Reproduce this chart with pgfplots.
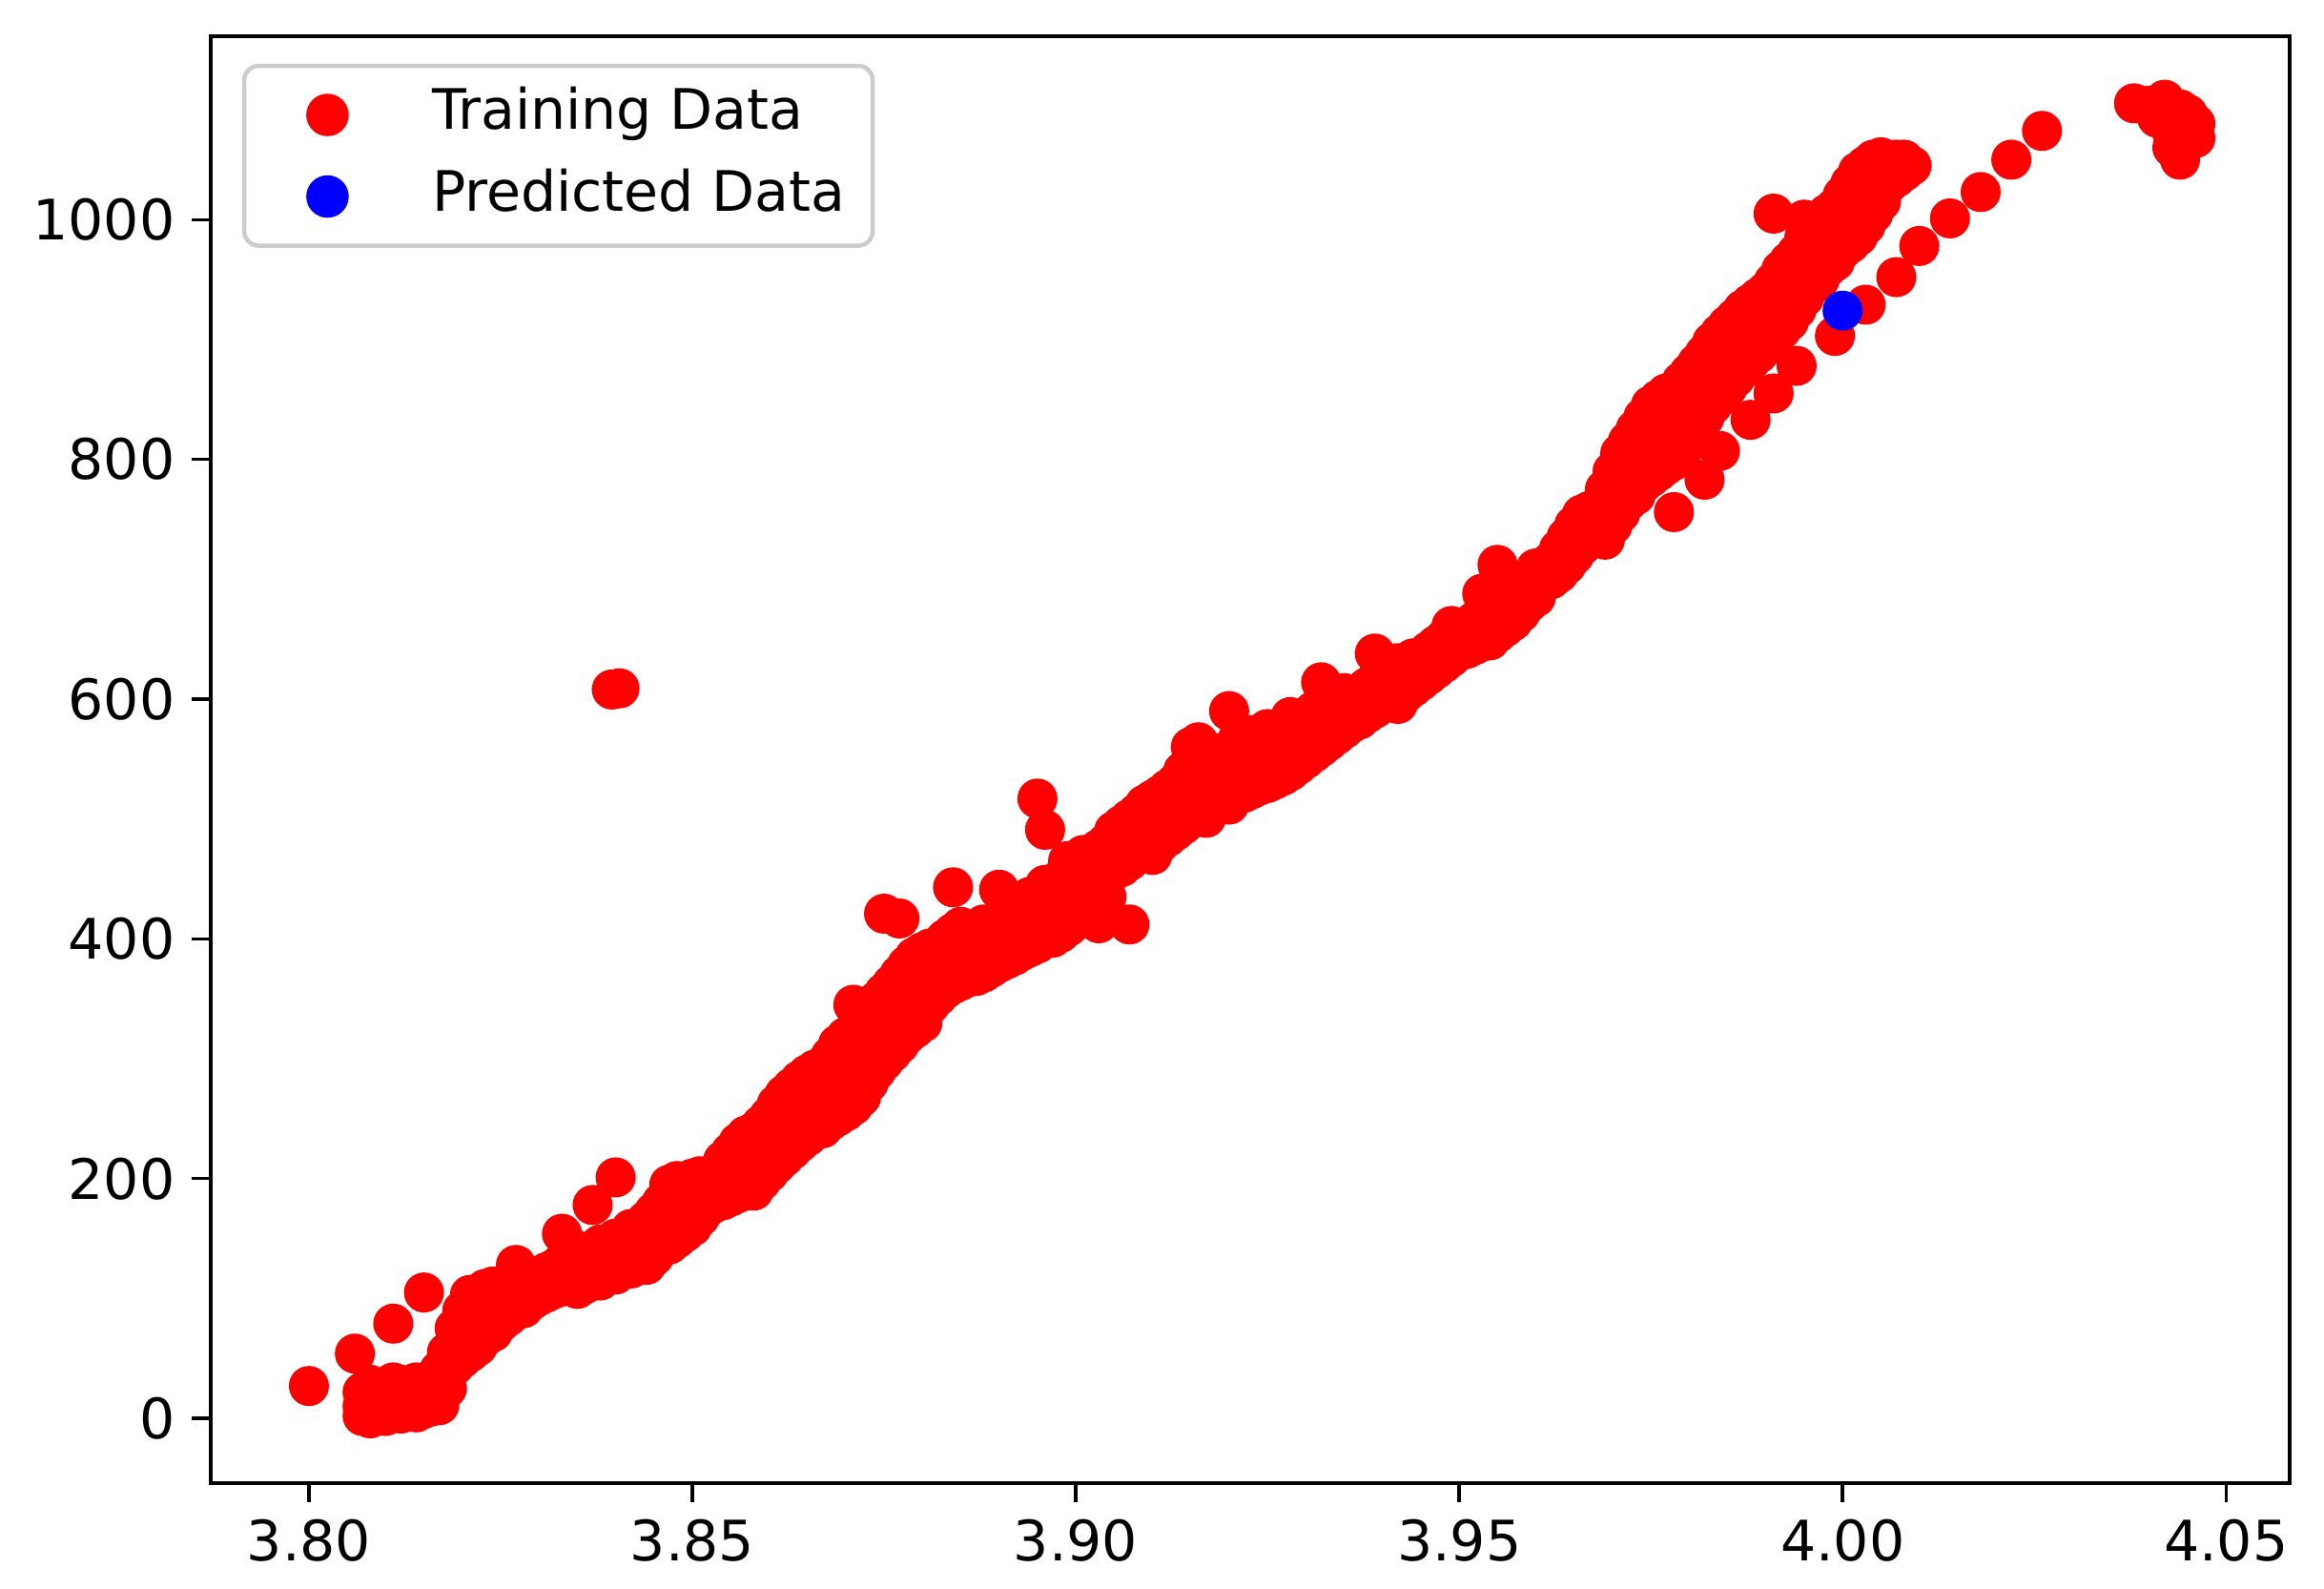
\documentclass[border=0pt]{standalone}
\usepackage{pgfplots}
\pgfplotsset{compat=1.18}
\usepackage{fontspec}
\setmainfont{DejaVu Sans}
\begin{document}
\begin{tikzpicture}
\begin{axis}[
  scale only axis,
  width=436pt, height=303.4pt,
  xmin=3.7872, xmax=4.0583,
  ymin=-54, ymax=1153,
  axis line style={line width=0.9pt},
  tick style={line width=0.7pt, black},
  tick align=outside,
  major tick length=4pt,
  xtick={3.80,3.85,3.90,3.95,4.00,4.05},
  xticklabels={3.80,3.85,3.90,3.95,4.00,4.05},
  ytick={0,200,400,600,800,1000},
  yticklabels={0,200,400,600,800,1000},
  xtick pos=bottom, ytick pos=left,
  tick label style={font=\fontsize{11.7}{14}\selectfont},
  /pgf/number format/assume math mode=true,
  /pgf/number format/1000 sep={},
  legend style={at={(0.0151,0.981)}, anchor=north west,
    draw=black!20, line width=0.9pt, rounded corners=3pt,
    fill=white, inner xsep=5.8pt, inner ysep=4.7pt,
    font=\fontsize{11.7}{14}\selectfont,
    nodes={inner sep=0pt, text height=8.6pt, text depth=2.6pt},
    row sep=5.9pt,
    /tikz/every odd column/.append style={column sep=17.5pt}},
  legend cell align=left,
  legend image code/.code={\path (-11.2pt,0pt) (4pt,0pt);\draw[#1] plot coordinates {(0pt,0pt)};},
]
\addplot[only marks, mark=*, mark size=4pt, color=red] table {
x y
3.800 27
3.806 54
3.807 2
3.807 10
3.807 22
3.808 0
3.808 15
3.808 28
3.809 5
3.809 20
3.810 2
3.810 12
3.810 25
3.811 79
3.811 8
3.811 18
3.811 30
3.812 4
3.812 15
3.812 28
3.813 10
3.813 22
3.814 5
3.814 18
3.814 30
3.815 105
3.815 8
3.815 25
3.816 10
3.816 20
3.816 32
3.817 11
3.817 28
3.817 40
3.818 25
3.818 40
3.818 55
3.819 44
3.819 60
3.819 75
3.820 50
3.820 70
3.820 90
3.821 55
3.821 80
3.821 103
3.822 60
3.822 85
3.822 100
3.823 68
3.823 90
3.823 108
3.824 72
3.824 95
3.824 110
3.825 80
3.825 100
3.826 85
3.826 105
3.827 128
3.827 90
3.827 108
3.828 92
3.828 112
3.829 98
3.829 115
3.830 102
3.830 118
3.831 105
3.831 122
3.832 108
3.832 125
3.833 154
3.833 110
3.833 130
3.834 112
3.834 135
3.835 108
3.835 125
3.835 140
3.836 112
3.836 135
3.837 178
3.837 118
3.837 140
3.838 115
3.838 128
3.838 145
3.839 122
3.839 140
3.840 201
3.840 120
3.840 135
3.840 150
3.8395 608
3.8405 609
3.841 126
3.841 145
3.842 125
3.842 140
3.842 158
3.843 132
3.843 150
3.844 128
3.844 145
3.844 165
3.845 135
3.845 155
3.845 172
3.846 145
3.846 165
3.846 180
3.847 145
3.847 160
3.847 185
3.847 195
3.848 150
3.848 175
3.848 198
3.849 155
3.849 180
3.849 192
3.850 160
3.850 175
3.850 200
3.851 168
3.851 190
3.851 202
3.852 176
3.852 195
3.853 180
3.853 205
3.854 182
3.854 200
3.854 215
3.855 185
3.855 205
3.855 222
3.856 188
3.856 210
3.856 230
3.857 190
3.857 215
3.857 236
3.858 190
3.858 215
3.858 239
3.859 198
3.859 222
3.859 245
3.860 205
3.860 228
3.860 252
3.861 212
3.861 238
3.861 262
3.862 218
3.862 245
3.862 270
3.863 224
3.863 250
3.863 276
3.864 230
3.864 255
3.864 282
3.865 235
3.865 262
3.865 287
3.866 240
3.866 268
3.866 291
3.867 242
3.867 270
3.867 294
3.868 248
3.868 278
3.868 302
3.869 252
3.869 285
3.869 312
3.870 256
3.870 290
3.870 318
3.871 345
3.871 261
3.871 295
3.871 323
3.872 268
3.872 300
3.872 330
3.873 280
3.873 310
3.873 338
3.874 290
3.874 320
3.874 348
3.875 421
3.875 298
3.875 328
3.875 355
3.876 305
3.876 336
3.876 362
3.877 417
3.877 312
3.877 345
3.877 370
3.878 320
3.878 352
3.878 378
3.879 325
3.879 340
3.879 365
3.879 385
3.880 330
3.880 355
3.880 389
3.881 345
3.881 370
3.881 392
3.882 352
3.882 378
3.883 358
3.883 385
3.883 400
3.884 443
3.884 362
3.884 380
3.884 405
3.885 365
3.885 388
3.885 410
3.886 368
3.886 392
3.887 369
3.887 385
3.887 405
3.888 372
3.888 395
3.888 412
3.889 376
3.889 398
3.890 441
3.890 380
3.890 400
3.890 415
3.891 383
3.891 405
3.892 386
3.892 410
3.892 425
3.893 390
3.893 415
3.894 393
3.894 420
3.894 435
3.895 517
3.895 396
3.895 425
3.896 491
3.896 400
3.896 430
3.896 445
3.897 401
3.897 420
3.897 440
3.898 405
3.898 430
3.898 450
3.899 410
3.899 440
3.899 465
3.900 415
3.900 445
3.900 460
3.901 420
3.901 450
3.901 470
3.902 425
3.902 455
3.903 413
3.903 430
3.903 460
3.903 475
3.904 435
3.904 465
3.904 480
3.905 457
3.905 475
3.905 490
3.906 460
3.906 480
3.906 495
3.907 412
3.907 465
3.907 485
3.907 500
3.908 470
3.908 490
3.908 505
3.909 475
3.909 495
3.909 512
3.910 470
3.910 495
3.910 516
3.911 480
3.911 500
3.911 520
3.912 485
3.912 505
3.912 525
3.913 490
3.913 510
3.913 530
3.914 495
3.914 515
3.914 540
3.915 500
3.915 520
3.915 545
3.915 560
3.916 505
3.916 530
3.916 564
3.917 501
3.917 525
3.917 550
3.918 510
3.918 535
3.918 555
3.919 515
3.919 540
3.920 590
3.920 512
3.920 530
3.920 555
3.921 520
3.921 545
3.921 565
3.922 522
3.922 540
3.922 560
3.923 525
3.923 550
3.923 570
3.924 528
3.924 548
3.925 530
3.925 555
3.925 575
3.926 533
3.926 550
3.926 570
3.927 536
3.927 558
3.928 585
3.928 540
3.928 562
3.929 545
3.929 565
3.930 550
3.930 570
3.931 555
3.931 575
3.931 590
3.932 614
3.932 560
3.932 580
3.933 565
3.933 585
3.934 570
3.934 590
3.935 575
3.935 595
3.935 605
3.936 580
3.936 600
3.937 583
3.937 605
3.938 588
3.938 610
3.939 638
3.939 592
3.939 615
3.940 596
3.940 618
3.941 600
3.941 622
3.942 596
3.942 615
3.942 630
3.943 605
3.943 628
3.944 610
3.944 634
3.945 615
3.945 635
3.946 620
3.946 640
3.947 625
3.947 645
3.948 630
3.948 650
3.949 661
3.949 635
3.949 652
3.950 640
3.950 658
3.951 642
3.951 660
3.952 645
3.952 665
3.953 688
3.953 648
3.953 670
3.954 649
3.954 675
3.955 712
3.955 655
3.955 680
3.956 660
3.956 685
3.957 665
3.957 690
3.958 672
3.958 695
3.959 680
3.959 700
3.960 709
3.960 685
3.960 700
3.961 697
3.961 705
3.962 700
3.962 715
3.963 705
3.963 725
3.964 712
3.964 735
3.965 720
3.965 745
3.966 728
3.966 754
3.967 757
3.967 735
3.967 745
3.968 740
3.968 760
3.969 733
3.969 750
3.969 775
3.970 745
3.970 770
3.970 790
3.971 755
3.971 780
3.971 805
3.972 765
3.972 790
3.972 815
3.973 770
3.973 800
3.973 825
3.974 780
3.974 810
3.974 835
3.975 785
3.975 815
3.975 845
3.976 790
3.976 825
3.976 850
3.977 795
3.977 830
3.977 855
3.978 756
3.978 799
3.978 830
3.978 857
3.979 805
3.979 840
3.979 865
3.980 815
3.980 845
3.980 872
3.981 825
3.981 855
3.981 880
3.982 783
3.982 835
3.982 865
3.982 888
3.983 845
3.983 875
3.983 898
3.984 807
3.984 852
3.984 880
3.984 905
3.985 860
3.985 890
3.985 912
3.986 868
3.986 895
3.986 918
3.987 875
3.987 905
3.987 925
3.988 833
3.988 882
3.988 910
3.988 930
3.989 888
3.989 915
3.989 935
3.990 894
3.990 920
3.990 940
3.991 855
3.991 1005
3.991 900
3.991 925
3.991 948
3.992 908
3.992 935
3.992 958
3.993 915
3.993 940
3.993 965
3.994 878
3.994 925
3.994 950
3.994 972
3.995 935
3.995 960
3.995 985
3.995 1000
3.996 945
3.996 970
3.996 992
3.997 950
3.997 975
3.997 1000
3.998 960
3.998 985
3.998 1005
3.999 903
3.999 965
3.999 995
3.999 1010
4.000 975
4.000 1000
4.000 1020
4.001 980
4.001 1010
4.001 1030
4.002 986
4.002 1015
4.002 1040
4.003 929
4.003 995
4.003 1025
4.003 1045
4.004 1005
4.004 1030
4.004 1050
4.005 1015
4.005 1040
4.005 1052
4.006 1030
4.006 1045
4.007 952
4.007 1035
4.007 1050
4.008 1040
4.008 1050
4.009 1045
4.010 978
4.014 1001
4.018 1023
4.022 1050
4.026 1074
4.038 1097
4.040 1095
4.042 1100
4.041 1085
4.043 1072
4.044 1092
4.045 1088
4.046 1080
4.046 1068
4.043 1060
4.044 1050
};
\addlegendentry{Training Data}
\addplot[only marks, mark=*, mark size=4pt, color=blue] table {
x y
4.000 924
};
\addlegendentry{Predicted Data}
\end{axis}
\pgfresetboundingbox
\path[use as bounding box] ([shift={(-44.2pt,-22.2pt)}]current axis.south west) rectangle ([shift={(7.2pt,7.6pt)}]current axis.north east);
\end{tikzpicture}
\end{document}
